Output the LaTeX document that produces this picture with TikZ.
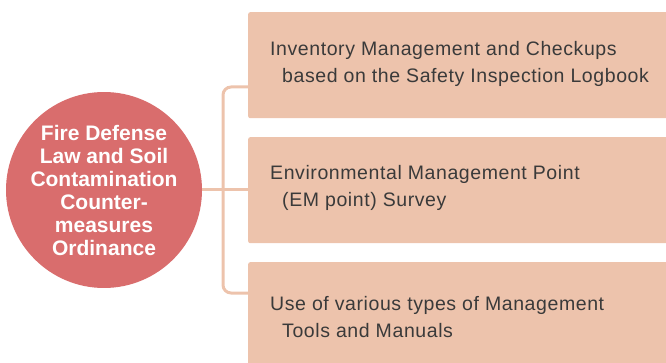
\documentclass[tikz,border=0pt]{standalone}
\usepackage{fontspec}
\setmainfont{Liberation Sans}
\newfontfamily\itemfont[LetterSpace=3]{Liberation Sans}
\usetikzlibrary{calc}
\definecolor{boxfill}{HTML}{EDC3AC}
\definecolor{circfill}{HTML}{D96D6D}
\definecolor{txt}{HTML}{3A3A3A}
\tikzset{
  itembox/.style={draw=none, fill=boxfill, rounded corners=2pt, minimum width=430pt, minimum height=106pt, anchor=north west, inner sep=0pt},
  itemtext/.style={anchor=base west, text=txt, font=\itemfont\fontsize{19.5}{27}\selectfont, align=left, inner sep=0pt},
  link/.style={draw=boxfill, line width=3pt},
  hub/.style={circle, fill=circfill, minimum size=188pt, inner sep=0pt, text=white, font=\bfseries\fontsize{21}{23}\selectfont, align=center}
}
\begin{document}
\begin{tikzpicture}[x=1pt,y=-1pt]
\useasboundingbox (0,0) rectangle (666,363);
\node[itembox] (b1) at (248,12) {};
\node[itembox] (b2) at (248,137) {};
\node[itembox, minimum height=110pt] (b3) at (248,262) {};
\node[hub] (c) at (104,190) {Fire Defense\\Law and Soil\\Contamination\\Counter-\\measures\\Ordinance};
\coordinate (j1) at (248,87);
\coordinate (j2) at (248,190);
\coordinate (j3) at (248,293);
\draw[link] (c.east) -- (j2);
\draw[link, rounded corners=8pt] (j1) -- (223,87) -- (223,293) -- (j3);
\node[itemtext] (t1a) at (270,56) {Inventory Management and Checkups};
\node[itemtext] (t1b) at (282,83) {based on the Safety Inspection Logbook};
\node[itemtext] (t2a) at (270,180) {Environmental Management Point};
\node[itemtext] (t2b) at (282,207) {(EM point) Survey};
\node[itemtext] (t3a) at (270,310) {Use of various types of Management};
\node[itemtext] (t3b) at (282,337) {Tools and Manuals};
\end{tikzpicture}
\end{document}
